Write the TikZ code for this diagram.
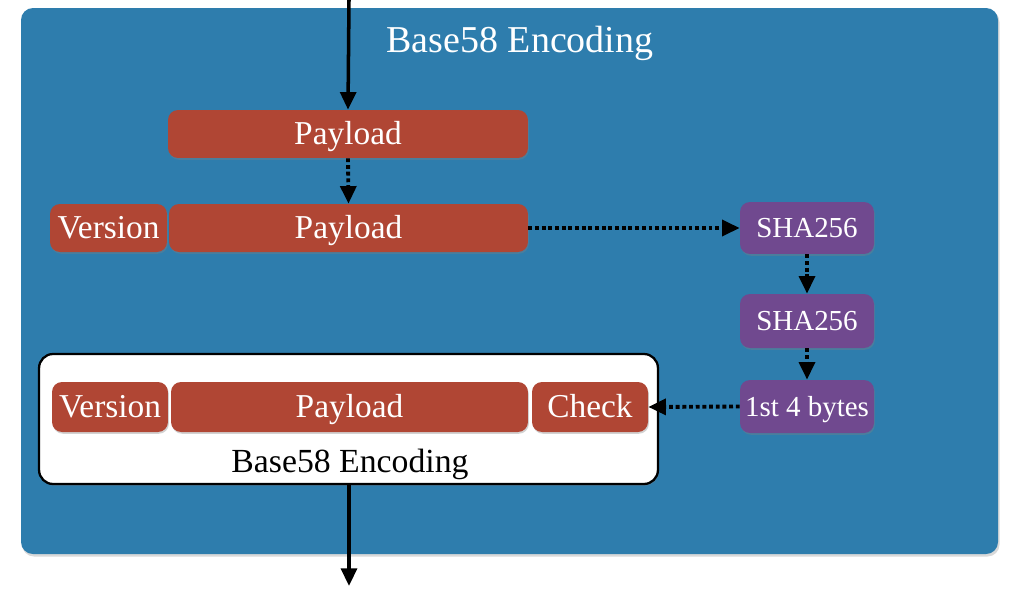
\documentclass[tikz,border=0pt]{standalone}
\usepackage{fontspec}
\setmainfont{Liberation Serif}
\usetikzlibrary{arrows.meta,shadows}
\definecolor{bgblue}{RGB}{46,125,173}
\definecolor{boxred}{RGB}{176,70,52}
\definecolor{boxpurple}{RGB}{112,73,143}
\tikzset{
  redbox/.style={fill=boxred, rounded corners=0.2cm, text=white, inner sep=0pt,
    minimum height=0.96cm, font=\fontsize{19}{21}\selectfont, text height=12.5pt, text depth=0pt,
    drop shadow={opacity=0.35, shadow xshift=0.5pt, shadow yshift=-1pt}},
  purplebox/.style={fill=boxpurple, rounded corners=0.2cm, text=white, inner sep=0pt,
    minimum width=2.68cm, font=\fontsize{16.5}{18}\selectfont, text height=10.9pt, text depth=0pt,
    drop shadow={opacity=0.35, shadow xshift=0.5pt, shadow yshift=-1pt}},
  solidarrow/.style={draw=black, line width=2pt, -{Triangle[length=10pt,width=9pt]}},
  dotarrow/.style={draw=black, line width=2.2pt, dash pattern=on 2.2pt off 1.6pt,
    -{Triangle[length=10pt,width=9pt]}},
}
\begin{document}
\begin{tikzpicture}[x=0.02cm,y=-0.02cm]
\useasboundingbox (0,0) rectangle (1013,605);
\fill[white] (0,0) rectangle (1013,605);
% blue background
\fill[black, opacity=0.15, rounded corners=0.24cm] (22,10) rectangle (999.5,556.5);
\path[fill=bgblue, rounded corners=0.24cm] (21,8) rectangle (998,554);
\node[text=white, font=\fontsize{21.6}{24}\selectfont, text height=14.3pt, text depth=0pt, inner sep=0pt] (title) at (520,40) {Base58 Encoding};

% top row
\node[redbox, minimum width=7.2cm] (pay1) at (348,134) {Payload};
\node[redbox, minimum width=2.34cm] (ver2) at (108.5,228) {Version};
\node[redbox, minimum width=7.18cm] (pay2) at (348.5,228) {Payload};

% purple column
\node[purplebox, minimum height=1.04cm] (sha1) at (807,228) {SHA256};
\node[purplebox, minimum height=1.08cm] (sha2) at (807,321) {SHA256};
\node[purplebox, minimum height=1.06cm] (bytes) at (807,406.5) {1st 4 bytes};

% white result box
\node[draw=black, line width=1.3pt, fill=white, rounded corners=0.28cm,
  minimum width=12.38cm, minimum height=2.6cm, inner sep=0pt,
  drop shadow={opacity=0.3, shadow xshift=0.5pt, shadow yshift=-1pt}] (result) at (348.5,419) {};
\node[redbox, minimum width=2.32cm, minimum height=1.0cm] (ver3) at (110,407) {Version};
\node[redbox, minimum width=7.14cm, minimum height=1.0cm] (pay3) at (349.5,407) {Payload};
\node[redbox, minimum width=2.32cm, minimum height=1.0cm] (check) at (590,407) {Check};
\node[text=black, font=\fontsize{19.2}{22}\selectfont, text height=12.7pt, text depth=0pt, inner sep=0pt] (reslabel) at (350,461) {Base58 Encoding};

% connectors
\coordinate (topin) at (349,0);
\coordinate (botout) at (349,586);
\draw[solidarrow] (topin) -- (pay1.north);
\draw[dotarrow] (pay1.south) -- (pay2.north);
\draw[dotarrow] (pay2.east) -- (sha1.west);
\draw[dotarrow] (sha1.south) -- (sha2.north);
\draw[dotarrow] (sha2.south) -- (bytes.north);
\draw[dotarrow] (bytes.west) -- (check.east);
\draw[solidarrow] (result.south -| botout) -- (botout);
\end{tikzpicture}
\end{document}
